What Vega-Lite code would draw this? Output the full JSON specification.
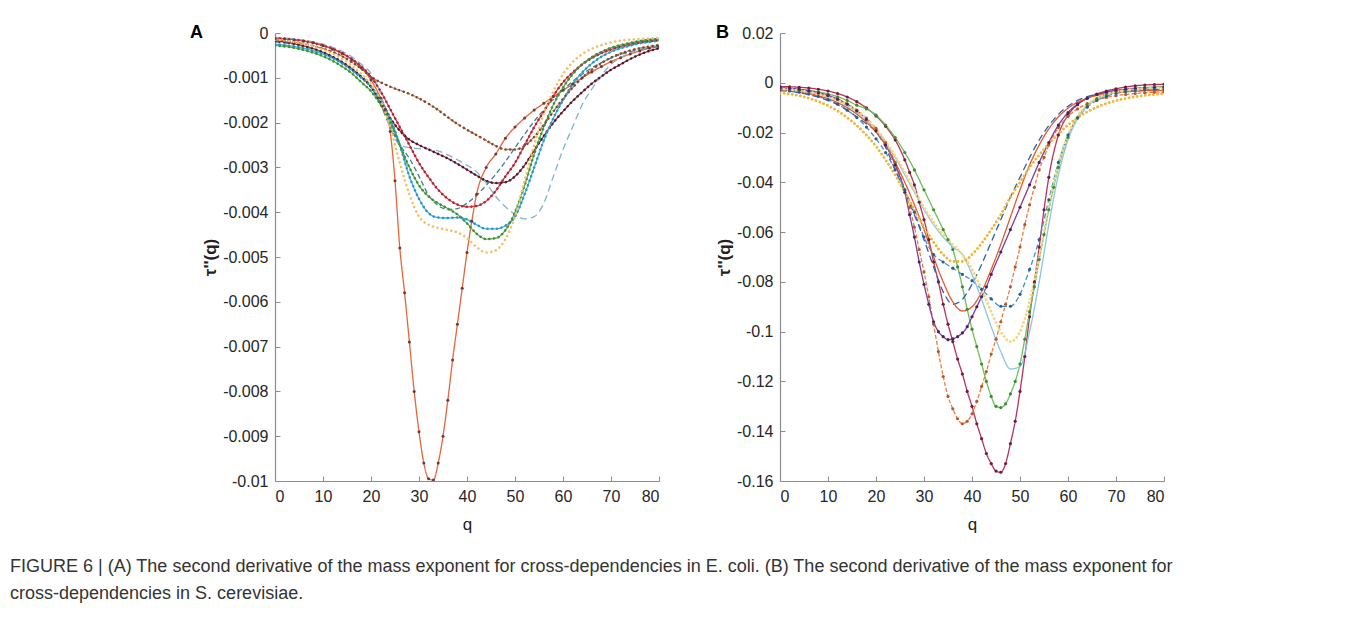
{
"$schema": "https://vega.github.io/schema/vega-lite/v6.json",
"background": "white",
"padding": {"left": 10, "top": 24, "right": 10, "bottom": 10},
"title": {"text": ["FIGURE 6 | (A) The second derivative of the mass exponent for cross-dependencies in E. coli. (B) The second derivative of the mass exponent for", "cross-dependencies in S. cerevisiae."], "orient": "bottom", "anchor": "start", "frame": "bounds", "dx": -180, "offset": 26, "fontSize": 18, "fontWeight": "normal", "font": "Liberation Sans", "color": "#333333", "lineHeight": 27, "baseline": "top"},
"datasets": {
"A": [
{"s":"A1","q":0,"v":-0.00012},{"s":"A1","q":2,"v":-0.00013},{"s":"A1","q":4,"v":-0.00015},{"s":"A1","q":6,"v":-0.00018},{"s":"A1","q":8,"v":-0.00022},{"s":"A1","q":10,"v":-0.00028},{"s":"A1","q":12,"v":-0.00036},{"s":"A1","q":14,"v":-0.00046},{"s":"A1","q":16,"v":-0.0006},{"s":"A1","q":18,"v":-0.00078},{"s":"A1","q":20,"v":-0.00105},{"s":"A1","q":22,"v":-0.00145},{"s":"A1","q":23,"v":-0.0017},{"s":"A1","q":24,"v":-0.0022},{"s":"A1","q":25,"v":-0.0033},{"s":"A1","q":26,"v":-0.0048},{"s":"A1","q":27,"v":-0.0058},{"s":"A1","q":28,"v":-0.0069},{"s":"A1","q":29,"v":-0.008},{"s":"A1","q":30,"v":-0.0089},{"s":"A1","q":31,"v":-0.0096},{"s":"A1","q":32,"v":-0.00995},{"s":"A1","q":33,"v":-0.00998},{"s":"A1","q":34,"v":-0.0096},{"s":"A1","q":35,"v":-0.009},{"s":"A1","q":36,"v":-0.0082},{"s":"A1","q":37,"v":-0.0073},{"s":"A1","q":38,"v":-0.0065},{"s":"A1","q":39,"v":-0.0057},{"s":"A1","q":40,"v":-0.0049},{"s":"A1","q":41,"v":-0.0042},{"s":"A1","q":42,"v":-0.0036},{"s":"A1","q":44,"v":-0.003},{"s":"A1","q":46,"v":-0.0027},{"s":"A1","q":48,"v":-0.00235},{"s":"A1","q":50,"v":-0.0021},{"s":"A1","q":52,"v":-0.0019},{"s":"A1","q":54,"v":-0.00172},{"s":"A1","q":56,"v":-0.00157},{"s":"A1","q":58,"v":-0.00142},{"s":"A1","q":60,"v":-0.00128},{"s":"A1","q":62,"v":-0.00114},{"s":"A1","q":64,"v":-0.001},{"s":"A1","q":66,"v":-0.00087},{"s":"A1","q":68,"v":-0.00075},{"s":"A1","q":70,"v":-0.00064},{"s":"A1","q":72,"v":-0.00055},{"s":"A1","q":74,"v":-0.00047},{"s":"A1","q":76,"v":-0.0004},{"s":"A1","q":78,"v":-0.00034},{"s":"A1","q":80,"v":-0.0003},
{"s":"A2","q":0,"v":-0.00015},{"s":"A2","q":2,"v":-0.00017},{"s":"A2","q":4,"v":-0.0002},{"s":"A2","q":6,"v":-0.00024},{"s":"A2","q":8,"v":-0.00029},{"s":"A2","q":10,"v":-0.00035},{"s":"A2","q":12,"v":-0.00042},{"s":"A2","q":14,"v":-0.00052},{"s":"A2","q":16,"v":-0.00065},{"s":"A2","q":18,"v":-0.0008},{"s":"A2","q":20,"v":-0.00098},{"s":"A2","q":22,"v":-0.0011},{"s":"A2","q":24,"v":-0.0012},{"s":"A2","q":26,"v":-0.00128},{"s":"A2","q":28,"v":-0.00136},{"s":"A2","q":30,"v":-0.00146},{"s":"A2","q":32,"v":-0.00158},{"s":"A2","q":34,"v":-0.00172},{"s":"A2","q":36,"v":-0.00188},{"s":"A2","q":38,"v":-0.00203},{"s":"A2","q":40,"v":-0.00216},{"s":"A2","q":42,"v":-0.00228},{"s":"A2","q":44,"v":-0.0024},{"s":"A2","q":46,"v":-0.00252},{"s":"A2","q":48,"v":-0.0026},{"s":"A2","q":50,"v":-0.0026},{"s":"A2","q":52,"v":-0.00252},{"s":"A2","q":54,"v":-0.00232},{"s":"A2","q":56,"v":-0.00205},{"s":"A2","q":58,"v":-0.00175},{"s":"A2","q":60,"v":-0.00147},{"s":"A2","q":62,"v":-0.00122},{"s":"A2","q":64,"v":-0.001},{"s":"A2","q":66,"v":-0.00082},{"s":"A2","q":68,"v":-0.00067},{"s":"A2","q":70,"v":-0.00055},{"s":"A2","q":72,"v":-0.00046},{"s":"A2","q":74,"v":-0.00039},{"s":"A2","q":76,"v":-0.00034},{"s":"A2","q":78,"v":-0.0003},{"s":"A2","q":80,"v":-0.00027},
{"s":"A3","q":0,"v":-0.00018},{"s":"A3","q":2,"v":-0.0002},{"s":"A3","q":4,"v":-0.00024},{"s":"A3","q":6,"v":-0.00029},{"s":"A3","q":8,"v":-0.00035},{"s":"A3","q":10,"v":-0.00043},{"s":"A3","q":12,"v":-0.00053},{"s":"A3","q":14,"v":-0.00065},{"s":"A3","q":16,"v":-0.0008},{"s":"A3","q":18,"v":-0.00098},{"s":"A3","q":20,"v":-0.0012},{"s":"A3","q":22,"v":-0.00155},{"s":"A3","q":24,"v":-0.0019},{"s":"A3","q":26,"v":-0.00218},{"s":"A3","q":28,"v":-0.00238},{"s":"A3","q":30,"v":-0.0025},{"s":"A3","q":32,"v":-0.0026},{"s":"A3","q":34,"v":-0.0027},{"s":"A3","q":36,"v":-0.0028},{"s":"A3","q":38,"v":-0.00292},{"s":"A3","q":40,"v":-0.00305},{"s":"A3","q":42,"v":-0.00318},{"s":"A3","q":44,"v":-0.0033},{"s":"A3","q":46,"v":-0.00335},{"s":"A3","q":48,"v":-0.00333},{"s":"A3","q":50,"v":-0.0032},{"s":"A3","q":52,"v":-0.00295},{"s":"A3","q":54,"v":-0.00262},{"s":"A3","q":56,"v":-0.0023},{"s":"A3","q":58,"v":-0.002},{"s":"A3","q":60,"v":-0.00175},{"s":"A3","q":62,"v":-0.00152},{"s":"A3","q":64,"v":-0.00132},{"s":"A3","q":66,"v":-0.00113},{"s":"A3","q":68,"v":-0.00097},{"s":"A3","q":70,"v":-0.00082},{"s":"A3","q":72,"v":-0.0007},{"s":"A3","q":74,"v":-0.00058},{"s":"A3","q":76,"v":-0.00048},{"s":"A3","q":78,"v":-0.0004},{"s":"A3","q":80,"v":-0.00034},
{"s":"A4","q":0,"v":-0.00012},{"s":"A4","q":2,"v":-0.00013},{"s":"A4","q":4,"v":-0.00015},{"s":"A4","q":6,"v":-0.00018},{"s":"A4","q":8,"v":-0.00022},{"s":"A4","q":10,"v":-0.00028},{"s":"A4","q":12,"v":-0.00035},{"s":"A4","q":14,"v":-0.00045},{"s":"A4","q":16,"v":-0.00058},{"s":"A4","q":18,"v":-0.00075},{"s":"A4","q":20,"v":-0.00098},{"s":"A4","q":22,"v":-0.0013},{"s":"A4","q":24,"v":-0.0017},{"s":"A4","q":26,"v":-0.0021},{"s":"A4","q":28,"v":-0.0025},{"s":"A4","q":30,"v":-0.0029},{"s":"A4","q":32,"v":-0.00322},{"s":"A4","q":34,"v":-0.0035},{"s":"A4","q":36,"v":-0.0037},{"s":"A4","q":38,"v":-0.00383},{"s":"A4","q":40,"v":-0.00388},{"s":"A4","q":42,"v":-0.00386},{"s":"A4","q":44,"v":-0.00375},{"s":"A4","q":46,"v":-0.00352},{"s":"A4","q":48,"v":-0.0032},{"s":"A4","q":50,"v":-0.0029},{"s":"A4","q":52,"v":-0.0025},{"s":"A4","q":54,"v":-0.0021},{"s":"A4","q":56,"v":-0.00175},{"s":"A4","q":58,"v":-0.0014},{"s":"A4","q":60,"v":-0.0011},{"s":"A4","q":62,"v":-0.00088},{"s":"A4","q":64,"v":-0.0007},{"s":"A4","q":66,"v":-0.00056},{"s":"A4","q":68,"v":-0.00045},{"s":"A4","q":70,"v":-0.00037},{"s":"A4","q":72,"v":-0.0003},{"s":"A4","q":74,"v":-0.00025},{"s":"A4","q":76,"v":-0.00021},{"s":"A4","q":78,"v":-0.00018},{"s":"A4","q":80,"v":-0.00016},
{"s":"A5","q":0,"v":-0.0002},{"s":"A5","q":2,"v":-0.00022},{"s":"A5","q":4,"v":-0.00025},{"s":"A5","q":6,"v":-0.0003},{"s":"A5","q":8,"v":-0.00036},{"s":"A5","q":10,"v":-0.00044},{"s":"A5","q":12,"v":-0.00054},{"s":"A5","q":14,"v":-0.00066},{"s":"A5","q":16,"v":-0.0008},{"s":"A5","q":18,"v":-0.00098},{"s":"A5","q":20,"v":-0.0012},{"s":"A5","q":22,"v":-0.0016},{"s":"A5","q":24,"v":-0.0021},{"s":"A5","q":26,"v":-0.0025},{"s":"A5","q":28,"v":-0.0028},{"s":"A5","q":30,"v":-0.0032},{"s":"A5","q":32,"v":-0.00362},{"s":"A5","q":34,"v":-0.00385},{"s":"A5","q":36,"v":-0.00394},{"s":"A5","q":38,"v":-0.00392},{"s":"A5","q":40,"v":-0.0038},{"s":"A5","q":42,"v":-0.00362},{"s":"A5","q":44,"v":-0.0034},{"s":"A5","q":46,"v":-0.00315},{"s":"A5","q":48,"v":-0.00287},{"s":"A5","q":50,"v":-0.00256},{"s":"A5","q":52,"v":-0.00226},{"s":"A5","q":54,"v":-0.00197},{"s":"A5","q":56,"v":-0.00172},{"s":"A5","q":58,"v":-0.00148},{"s":"A5","q":60,"v":-0.00127},{"s":"A5","q":62,"v":-0.00108},{"s":"A5","q":64,"v":-0.00092},{"s":"A5","q":66,"v":-0.00078},{"s":"A5","q":68,"v":-0.00066},{"s":"A5","q":70,"v":-0.00056},{"s":"A5","q":72,"v":-0.00048},{"s":"A5","q":74,"v":-0.00042},{"s":"A5","q":76,"v":-0.00037},{"s":"A5","q":78,"v":-0.00033},{"s":"A5","q":80,"v":-0.0003},
{"s":"A6","q":0,"v":-0.0001},{"s":"A6","q":2,"v":-0.00011},{"s":"A6","q":4,"v":-0.00013},{"s":"A6","q":6,"v":-0.00016},{"s":"A6","q":8,"v":-0.0002},{"s":"A6","q":10,"v":-0.00025},{"s":"A6","q":12,"v":-0.00032},{"s":"A6","q":14,"v":-0.00041},{"s":"A6","q":16,"v":-0.00053},{"s":"A6","q":18,"v":-0.0007},{"s":"A6","q":20,"v":-0.0009},{"s":"A6","q":22,"v":-0.00135},{"s":"A6","q":24,"v":-0.0021},{"s":"A6","q":26,"v":-0.0025},{"s":"A6","q":28,"v":-0.00256},{"s":"A6","q":30,"v":-0.00258},{"s":"A6","q":32,"v":-0.0026},{"s":"A6","q":34,"v":-0.00263},{"s":"A6","q":36,"v":-0.00272},{"s":"A6","q":38,"v":-0.00283},{"s":"A6","q":40,"v":-0.00295},{"s":"A6","q":42,"v":-0.0031},{"s":"A6","q":44,"v":-0.00335},{"s":"A6","q":46,"v":-0.00365},{"s":"A6","q":48,"v":-0.00388},{"s":"A6","q":50,"v":-0.00405},{"s":"A6","q":52,"v":-0.00415},{"s":"A6","q":54,"v":-0.0041},{"s":"A6","q":56,"v":-0.0038},{"s":"A6","q":58,"v":-0.0032},{"s":"A6","q":60,"v":-0.0026},{"s":"A6","q":62,"v":-0.0021},{"s":"A6","q":64,"v":-0.0016},{"s":"A6","q":66,"v":-0.00125},{"s":"A6","q":68,"v":-0.00095},{"s":"A6","q":70,"v":-0.0007},{"s":"A6","q":72,"v":-0.00055},{"s":"A6","q":74,"v":-0.00044},{"s":"A6","q":76,"v":-0.00037},{"s":"A6","q":78,"v":-0.00031},{"s":"A6","q":80,"v":-0.00027},
{"s":"A7","q":0,"v":-0.00025},{"s":"A7","q":2,"v":-0.00027},{"s":"A7","q":4,"v":-0.0003},{"s":"A7","q":6,"v":-0.00034},{"s":"A7","q":8,"v":-0.0004},{"s":"A7","q":10,"v":-0.00047},{"s":"A7","q":12,"v":-0.00056},{"s":"A7","q":14,"v":-0.00068},{"s":"A7","q":16,"v":-0.00083},{"s":"A7","q":18,"v":-0.001},{"s":"A7","q":20,"v":-0.0012},{"s":"A7","q":22,"v":-0.0015},{"s":"A7","q":24,"v":-0.0019},{"s":"A7","q":26,"v":-0.0025},{"s":"A7","q":28,"v":-0.0032},{"s":"A7","q":30,"v":-0.0037},{"s":"A7","q":32,"v":-0.00402},{"s":"A7","q":34,"v":-0.00412},{"s":"A7","q":36,"v":-0.00413},{"s":"A7","q":38,"v":-0.00412},{"s":"A7","q":40,"v":-0.00416},{"s":"A7","q":42,"v":-0.00428},{"s":"A7","q":44,"v":-0.00437},{"s":"A7","q":46,"v":-0.00437},{"s":"A7","q":48,"v":-0.0043},{"s":"A7","q":50,"v":-0.0041},{"s":"A7","q":52,"v":-0.0036},{"s":"A7","q":54,"v":-0.003},{"s":"A7","q":56,"v":-0.0024},{"s":"A7","q":58,"v":-0.0019},{"s":"A7","q":60,"v":-0.0015},{"s":"A7","q":62,"v":-0.00115},{"s":"A7","q":64,"v":-0.00088},{"s":"A7","q":66,"v":-0.00068},{"s":"A7","q":68,"v":-0.00053},{"s":"A7","q":70,"v":-0.00042},{"s":"A7","q":72,"v":-0.00034},{"s":"A7","q":74,"v":-0.00028},{"s":"A7","q":76,"v":-0.00023},{"s":"A7","q":78,"v":-0.0002},{"s":"A7","q":80,"v":-0.00017},
{"s":"A8","q":0,"v":-0.00028},{"s":"A8","q":2,"v":-0.0003},{"s":"A8","q":4,"v":-0.00033},{"s":"A8","q":6,"v":-0.00038},{"s":"A8","q":8,"v":-0.00044},{"s":"A8","q":10,"v":-0.00052},{"s":"A8","q":12,"v":-0.00062},{"s":"A8","q":14,"v":-0.00075},{"s":"A8","q":16,"v":-0.0009},{"s":"A8","q":18,"v":-0.0011},{"s":"A8","q":20,"v":-0.0013},{"s":"A8","q":22,"v":-0.0016},{"s":"A8","q":24,"v":-0.002},{"s":"A8","q":26,"v":-0.0025},{"s":"A8","q":28,"v":-0.003},{"s":"A8","q":30,"v":-0.0034},{"s":"A8","q":32,"v":-0.00365},{"s":"A8","q":34,"v":-0.0038},{"s":"A8","q":36,"v":-0.00392},{"s":"A8","q":38,"v":-0.00405},{"s":"A8","q":40,"v":-0.00425},{"s":"A8","q":42,"v":-0.00448},{"s":"A8","q":44,"v":-0.0046},{"s":"A8","q":46,"v":-0.00458},{"s":"A8","q":48,"v":-0.0044},{"s":"A8","q":50,"v":-0.004},{"s":"A8","q":52,"v":-0.0034},{"s":"A8","q":54,"v":-0.0027},{"s":"A8","q":56,"v":-0.0021},{"s":"A8","q":58,"v":-0.0016},{"s":"A8","q":60,"v":-0.00122},{"s":"A8","q":62,"v":-0.00092},{"s":"A8","q":64,"v":-0.0007},{"s":"A8","q":66,"v":-0.00054},{"s":"A8","q":68,"v":-0.00042},{"s":"A8","q":70,"v":-0.00033},{"s":"A8","q":72,"v":-0.00027},{"s":"A8","q":74,"v":-0.00022},{"s":"A8","q":76,"v":-0.00018},{"s":"A8","q":78,"v":-0.00015},{"s":"A8","q":80,"v":-0.00013},
{"s":"A9","q":0,"v":-0.00015},{"s":"A9","q":2,"v":-0.00017},{"s":"A9","q":4,"v":-0.0002},{"s":"A9","q":6,"v":-0.00024},{"s":"A9","q":8,"v":-0.0003},{"s":"A9","q":10,"v":-0.00037},{"s":"A9","q":12,"v":-0.00046},{"s":"A9","q":14,"v":-0.00058},{"s":"A9","q":16,"v":-0.00073},{"s":"A9","q":18,"v":-0.00092},{"s":"A9","q":20,"v":-0.00115},{"s":"A9","q":22,"v":-0.0015},{"s":"A9","q":24,"v":-0.0021},{"s":"A9","q":26,"v":-0.0029},{"s":"A9","q":28,"v":-0.0036},{"s":"A9","q":30,"v":-0.0041},{"s":"A9","q":32,"v":-0.00428},{"s":"A9","q":34,"v":-0.00435},{"s":"A9","q":36,"v":-0.0044},{"s":"A9","q":38,"v":-0.00445},{"s":"A9","q":40,"v":-0.00458},{"s":"A9","q":42,"v":-0.00478},{"s":"A9","q":44,"v":-0.0049},{"s":"A9","q":46,"v":-0.00485},{"s":"A9","q":48,"v":-0.0046},{"s":"A9","q":50,"v":-0.0041},{"s":"A9","q":52,"v":-0.0033},{"s":"A9","q":54,"v":-0.0025},{"s":"A9","q":56,"v":-0.0018},{"s":"A9","q":58,"v":-0.0013},{"s":"A9","q":60,"v":-0.00092},{"s":"A9","q":62,"v":-0.00065},{"s":"A9","q":64,"v":-0.00047},{"s":"A9","q":66,"v":-0.00035},{"s":"A9","q":68,"v":-0.00027},{"s":"A9","q":70,"v":-0.00021},{"s":"A9","q":72,"v":-0.00017},{"s":"A9","q":74,"v":-0.00015},{"s":"A9","q":76,"v":-0.00013},{"s":"A9","q":78,"v":-0.00012},{"s":"A9","q":80,"v":-0.00011}
],
"B": [
{"s":"B1","q":0,"v":-0.0015},{"s":"B1","q":2,"v":-0.0016},{"s":"B1","q":4,"v":-0.0018},{"s":"B1","q":6,"v":-0.0021},{"s":"B1","q":8,"v":-0.0026},{"s":"B1","q":10,"v":-0.0033},{"s":"B1","q":12,"v":-0.0043},{"s":"B1","q":14,"v":-0.0057},{"s":"B1","q":16,"v":-0.0076},{"s":"B1","q":18,"v":-0.0101},{"s":"B1","q":20,"v":-0.0133},{"s":"B1","q":22,"v":-0.0175},{"s":"B1","q":24,"v":-0.023},{"s":"B1","q":26,"v":-0.031},{"s":"B1","q":27,"v":-0.036},{"s":"B1","q":28,"v":-0.041},{"s":"B1","q":29,"v":-0.048},{"s":"B1","q":30,"v":-0.055},{"s":"B1","q":31,"v":-0.063},{"s":"B1","q":32,"v":-0.072},{"s":"B1","q":33,"v":-0.08},{"s":"B1","q":34,"v":-0.089},{"s":"B1","q":35,"v":-0.097},{"s":"B1","q":36,"v":-0.104},{"s":"B1","q":37,"v":-0.111},{"s":"B1","q":38,"v":-0.117},{"s":"B1","q":39,"v":-0.124},{"s":"B1","q":40,"v":-0.13},{"s":"B1","q":41,"v":-0.137},{"s":"B1","q":42,"v":-0.143},{"s":"B1","q":43,"v":-0.149},{"s":"B1","q":44,"v":-0.153},{"s":"B1","q":45,"v":-0.156},{"s":"B1","q":46,"v":-0.1565},{"s":"B1","q":47,"v":-0.153},{"s":"B1","q":48,"v":-0.145},{"s":"B1","q":49,"v":-0.136},{"s":"B1","q":50,"v":-0.124},{"s":"B1","q":51,"v":-0.11},{"s":"B1","q":52,"v":-0.094},{"s":"B1","q":53,"v":-0.08},{"s":"B1","q":54,"v":-0.066},{"s":"B1","q":55,"v":-0.051},{"s":"B1","q":56,"v":-0.038},{"s":"B1","q":58,"v":-0.021},{"s":"B1","q":60,"v":-0.013},{"s":"B1","q":62,"v":-0.0088},{"s":"B1","q":64,"v":-0.0062},{"s":"B1","q":66,"v":-0.0045},{"s":"B1","q":68,"v":-0.0033},{"s":"B1","q":70,"v":-0.0024},{"s":"B1","q":72,"v":-0.0017},{"s":"B1","q":74,"v":-0.0012},{"s":"B1","q":76,"v":-0.0009},{"s":"B1","q":78,"v":-0.0007},{"s":"B1","q":80,"v":-0.0006},
{"s":"B2","q":0,"v":-0.0025},{"s":"B2","q":2,"v":-0.0027},{"s":"B2","q":4,"v":-0.003},{"s":"B2","q":6,"v":-0.0035},{"s":"B2","q":8,"v":-0.0042},{"s":"B2","q":10,"v":-0.0052},{"s":"B2","q":12,"v":-0.0066},{"s":"B2","q":14,"v":-0.0085},{"s":"B2","q":16,"v":-0.011},{"s":"B2","q":18,"v":-0.0142},{"s":"B2","q":20,"v":-0.0183},{"s":"B2","q":22,"v":-0.024},{"s":"B2","q":24,"v":-0.032},{"s":"B2","q":26,"v":-0.043},{"s":"B2","q":27,"v":-0.05},{"s":"B2","q":28,"v":-0.058},{"s":"B2","q":29,"v":-0.067},{"s":"B2","q":30,"v":-0.076},{"s":"B2","q":31,"v":-0.086},{"s":"B2","q":32,"v":-0.097},{"s":"B2","q":33,"v":-0.108},{"s":"B2","q":34,"v":-0.118},{"s":"B2","q":35,"v":-0.126},{"s":"B2","q":36,"v":-0.131},{"s":"B2","q":37,"v":-0.135},{"s":"B2","q":38,"v":-0.137},{"s":"B2","q":39,"v":-0.136},{"s":"B2","q":40,"v":-0.133},{"s":"B2","q":41,"v":-0.128},{"s":"B2","q":42,"v":-0.122},{"s":"B2","q":43,"v":-0.116},{"s":"B2","q":44,"v":-0.109},{"s":"B2","q":45,"v":-0.103},{"s":"B2","q":46,"v":-0.096},{"s":"B2","q":47,"v":-0.089},{"s":"B2","q":48,"v":-0.082},{"s":"B2","q":49,"v":-0.074},{"s":"B2","q":50,"v":-0.066},{"s":"B2","q":51,"v":-0.057},{"s":"B2","q":52,"v":-0.049},{"s":"B2","q":53,"v":-0.042},{"s":"B2","q":54,"v":-0.035},{"s":"B2","q":55,"v":-0.03},{"s":"B2","q":56,"v":-0.025},{"s":"B2","q":58,"v":-0.018},{"s":"B2","q":60,"v":-0.0135},{"s":"B2","q":62,"v":-0.0105},{"s":"B2","q":64,"v":-0.0084},{"s":"B2","q":66,"v":-0.0069},{"s":"B2","q":68,"v":-0.0059},{"s":"B2","q":70,"v":-0.0052},{"s":"B2","q":72,"v":-0.0047},{"s":"B2","q":74,"v":-0.0043},{"s":"B2","q":76,"v":-0.004},{"s":"B2","q":78,"v":-0.0038},{"s":"B2","q":80,"v":-0.0037},
{"s":"B3","q":0,"v":-0.0022},{"s":"B3","q":2,"v":-0.0024},{"s":"B3","q":4,"v":-0.0027},{"s":"B3","q":6,"v":-0.0031},{"s":"B3","q":8,"v":-0.0037},{"s":"B3","q":10,"v":-0.0045},{"s":"B3","q":12,"v":-0.0056},{"s":"B3","q":14,"v":-0.0071},{"s":"B3","q":16,"v":-0.009},{"s":"B3","q":18,"v":-0.0105},{"s":"B3","q":20,"v":-0.013},{"s":"B3","q":22,"v":-0.017},{"s":"B3","q":24,"v":-0.022},{"s":"B3","q":26,"v":-0.028},{"s":"B3","q":28,"v":-0.035},{"s":"B3","q":30,"v":-0.043},{"s":"B3","q":32,"v":-0.051},{"s":"B3","q":34,"v":-0.059},{"s":"B3","q":35,"v":-0.063},{"s":"B3","q":36,"v":-0.067},{"s":"B3","q":37,"v":-0.074},{"s":"B3","q":38,"v":-0.082},{"s":"B3","q":39,"v":-0.091},{"s":"B3","q":40,"v":-0.099},{"s":"B3","q":41,"v":-0.106},{"s":"B3","q":42,"v":-0.113},{"s":"B3","q":43,"v":-0.12},{"s":"B3","q":44,"v":-0.126},{"s":"B3","q":45,"v":-0.13},{"s":"B3","q":46,"v":-0.1305},{"s":"B3","q":47,"v":-0.129},{"s":"B3","q":48,"v":-0.125},{"s":"B3","q":49,"v":-0.12},{"s":"B3","q":50,"v":-0.113},{"s":"B3","q":51,"v":-0.103},{"s":"B3","q":52,"v":-0.092},{"s":"B3","q":53,"v":-0.082},{"s":"B3","q":54,"v":-0.071},{"s":"B3","q":55,"v":-0.061},{"s":"B3","q":56,"v":-0.051},{"s":"B3","q":57,"v":-0.042},{"s":"B3","q":58,"v":-0.034},{"s":"B3","q":60,"v":-0.022},{"s":"B3","q":62,"v":-0.014},{"s":"B3","q":64,"v":-0.0092},{"s":"B3","q":66,"v":-0.0063},{"s":"B3","q":68,"v":-0.0045},{"s":"B3","q":70,"v":-0.0034},{"s":"B3","q":72,"v":-0.0027},{"s":"B3","q":74,"v":-0.0022},{"s":"B3","q":76,"v":-0.0019},{"s":"B3","q":78,"v":-0.0017},{"s":"B3","q":80,"v":-0.0016},
{"s":"B4","q":0,"v":-0.002},{"s":"B4","q":2,"v":-0.0022},{"s":"B4","q":4,"v":-0.0026},{"s":"B4","q":6,"v":-0.0032},{"s":"B4","q":8,"v":-0.004},{"s":"B4","q":10,"v":-0.0051},{"s":"B4","q":12,"v":-0.0066},{"s":"B4","q":14,"v":-0.0086},{"s":"B4","q":16,"v":-0.0113},{"s":"B4","q":18,"v":-0.0148},{"s":"B4","q":20,"v":-0.0193},{"s":"B4","q":22,"v":-0.025},{"s":"B4","q":24,"v":-0.033},{"s":"B4","q":26,"v":-0.044},{"s":"B4","q":27,"v":-0.053},{"s":"B4","q":28,"v":-0.062},{"s":"B4","q":29,"v":-0.072},{"s":"B4","q":30,"v":-0.081},{"s":"B4","q":31,"v":-0.089},{"s":"B4","q":32,"v":-0.096},{"s":"B4","q":33,"v":-0.1},{"s":"B4","q":34,"v":-0.102},{"s":"B4","q":35,"v":-0.1032},{"s":"B4","q":36,"v":-0.1029},{"s":"B4","q":37,"v":-0.102},{"s":"B4","q":38,"v":-0.1005},{"s":"B4","q":39,"v":-0.098},{"s":"B4","q":40,"v":-0.094},{"s":"B4","q":41,"v":-0.09},{"s":"B4","q":42,"v":-0.086},{"s":"B4","q":43,"v":-0.082},{"s":"B4","q":44,"v":-0.077},{"s":"B4","q":46,"v":-0.068},{"s":"B4","q":48,"v":-0.059},{"s":"B4","q":50,"v":-0.05},{"s":"B4","q":52,"v":-0.041},{"s":"B4","q":54,"v":-0.032},{"s":"B4","q":56,"v":-0.024},{"s":"B4","q":58,"v":-0.017},{"s":"B4","q":60,"v":-0.012},{"s":"B4","q":62,"v":-0.0085},{"s":"B4","q":64,"v":-0.0062},{"s":"B4","q":66,"v":-0.0047},{"s":"B4","q":68,"v":-0.0037},{"s":"B4","q":70,"v":-0.003},{"s":"B4","q":72,"v":-0.0026},{"s":"B4","q":74,"v":-0.0023},{"s":"B4","q":76,"v":-0.0021},{"s":"B4","q":78,"v":-0.0019},{"s":"B4","q":80,"v":-0.0018},
{"s":"B5","q":0,"v":-0.003},{"s":"B5","q":2,"v":-0.0033},{"s":"B5","q":4,"v":-0.0038},{"s":"B5","q":6,"v":-0.0045},{"s":"B5","q":8,"v":-0.0055},{"s":"B5","q":10,"v":-0.0068},{"s":"B5","q":12,"v":-0.0086},{"s":"B5","q":14,"v":-0.011},{"s":"B5","q":16,"v":-0.014},{"s":"B5","q":18,"v":-0.0178},{"s":"B5","q":20,"v":-0.0225},{"s":"B5","q":22,"v":-0.028},{"s":"B5","q":24,"v":-0.035},{"s":"B5","q":26,"v":-0.043},{"s":"B5","q":28,"v":-0.052},{"s":"B5","q":30,"v":-0.062},{"s":"B5","q":32,"v":-0.069},{"s":"B5","q":34,"v":-0.072},{"s":"B5","q":36,"v":-0.0745},{"s":"B5","q":38,"v":-0.077},{"s":"B5","q":40,"v":-0.0795},{"s":"B5","q":42,"v":-0.083},{"s":"B5","q":44,"v":-0.0868},{"s":"B5","q":46,"v":-0.0898},{"s":"B5","q":48,"v":-0.0898},{"s":"B5","q":50,"v":-0.085},{"s":"B5","q":52,"v":-0.075},{"s":"B5","q":54,"v":-0.063},{"s":"B5","q":56,"v":-0.047},{"s":"B5","q":58,"v":-0.032},{"s":"B5","q":60,"v":-0.021},{"s":"B5","q":62,"v":-0.0142},{"s":"B5","q":64,"v":-0.0098},{"s":"B5","q":66,"v":-0.0071},{"s":"B5","q":68,"v":-0.0054},{"s":"B5","q":70,"v":-0.0043},{"s":"B5","q":72,"v":-0.0036},{"s":"B5","q":74,"v":-0.0031},{"s":"B5","q":76,"v":-0.0028},{"s":"B5","q":78,"v":-0.0026},{"s":"B5","q":80,"v":-0.0025},
{"s":"B6","q":0,"v":-0.003},{"s":"B6","q":2,"v":-0.0034},{"s":"B6","q":4,"v":-0.004},{"s":"B6","q":6,"v":-0.0048},{"s":"B6","q":8,"v":-0.0058},{"s":"B6","q":10,"v":-0.0071},{"s":"B6","q":12,"v":-0.0088},{"s":"B6","q":14,"v":-0.011},{"s":"B6","q":16,"v":-0.0137},{"s":"B6","q":18,"v":-0.0165},{"s":"B6","q":20,"v":-0.0197},{"s":"B6","q":22,"v":-0.026},{"s":"B6","q":24,"v":-0.035},{"s":"B6","q":26,"v":-0.044},{"s":"B6","q":28,"v":-0.053},{"s":"B6","q":30,"v":-0.063},{"s":"B6","q":32,"v":-0.074},{"s":"B6","q":34,"v":-0.084},{"s":"B6","q":36,"v":-0.089},{"s":"B6","q":38,"v":-0.087},{"s":"B6","q":40,"v":-0.081},{"s":"B6","q":42,"v":-0.073},{"s":"B6","q":44,"v":-0.064},{"s":"B6","q":46,"v":-0.055},{"s":"B6","q":48,"v":-0.046},{"s":"B6","q":50,"v":-0.038},{"s":"B6","q":52,"v":-0.03},{"s":"B6","q":54,"v":-0.023},{"s":"B6","q":56,"v":-0.0172},{"s":"B6","q":58,"v":-0.0127},{"s":"B6","q":60,"v":-0.0094},{"s":"B6","q":62,"v":-0.0071},{"s":"B6","q":64,"v":-0.0056},{"s":"B6","q":66,"v":-0.0046},{"s":"B6","q":68,"v":-0.004},{"s":"B6","q":70,"v":-0.0036},{"s":"B6","q":72,"v":-0.0033},{"s":"B6","q":74,"v":-0.0031},{"s":"B6","q":76,"v":-0.003},{"s":"B6","q":78,"v":-0.0029},{"s":"B6","q":80,"v":-0.0028},
{"s":"B7","q":0,"v":-0.0028},{"s":"B7","q":2,"v":-0.0031},{"s":"B7","q":4,"v":-0.0036},{"s":"B7","q":6,"v":-0.0043},{"s":"B7","q":8,"v":-0.0052},{"s":"B7","q":10,"v":-0.0064},{"s":"B7","q":12,"v":-0.008},{"s":"B7","q":14,"v":-0.01},{"s":"B7","q":16,"v":-0.0126},{"s":"B7","q":18,"v":-0.0158},{"s":"B7","q":20,"v":-0.0198},{"s":"B7","q":22,"v":-0.025},{"s":"B7","q":24,"v":-0.032},{"s":"B7","q":26,"v":-0.04},{"s":"B7","q":28,"v":-0.049},{"s":"B7","q":30,"v":-0.059},{"s":"B7","q":32,"v":-0.07},{"s":"B7","q":34,"v":-0.08},{"s":"B7","q":36,"v":-0.088},{"s":"B7","q":38,"v":-0.0917},{"s":"B7","q":40,"v":-0.09},{"s":"B7","q":42,"v":-0.084},{"s":"B7","q":44,"v":-0.075},{"s":"B7","q":46,"v":-0.065},{"s":"B7","q":48,"v":-0.054},{"s":"B7","q":50,"v":-0.043},{"s":"B7","q":52,"v":-0.033},{"s":"B7","q":54,"v":-0.025},{"s":"B7","q":56,"v":-0.0185},{"s":"B7","q":58,"v":-0.0137},{"s":"B7","q":60,"v":-0.0102},{"s":"B7","q":62,"v":-0.0078},{"s":"B7","q":64,"v":-0.0062},{"s":"B7","q":66,"v":-0.0051},{"s":"B7","q":68,"v":-0.0044},{"s":"B7","q":70,"v":-0.0039},{"s":"B7","q":72,"v":-0.0036},{"s":"B7","q":74,"v":-0.0034},{"s":"B7","q":76,"v":-0.0032},{"s":"B7","q":78,"v":-0.0031},{"s":"B7","q":80,"v":-0.003},
{"s":"B8","q":0,"v":-0.0025},{"s":"B8","q":2,"v":-0.0028},{"s":"B8","q":4,"v":-0.0032},{"s":"B8","q":6,"v":-0.0038},{"s":"B8","q":8,"v":-0.0046},{"s":"B8","q":10,"v":-0.0057},{"s":"B8","q":12,"v":-0.0072},{"s":"B8","q":14,"v":-0.0092},{"s":"B8","q":16,"v":-0.0118},{"s":"B8","q":18,"v":-0.015},{"s":"B8","q":20,"v":-0.019},{"s":"B8","q":22,"v":-0.024},{"s":"B8","q":24,"v":-0.03},{"s":"B8","q":26,"v":-0.037},{"s":"B8","q":28,"v":-0.044},{"s":"B8","q":30,"v":-0.051},{"s":"B8","q":32,"v":-0.057},{"s":"B8","q":34,"v":-0.062},{"s":"B8","q":36,"v":-0.066},{"s":"B8","q":38,"v":-0.069},{"s":"B8","q":40,"v":-0.077},{"s":"B8","q":42,"v":-0.087},{"s":"B8","q":44,"v":-0.098},{"s":"B8","q":46,"v":-0.108},{"s":"B8","q":48,"v":-0.115},{"s":"B8","q":50,"v":-0.114},{"s":"B8","q":52,"v":-0.1},{"s":"B8","q":54,"v":-0.08},{"s":"B8","q":56,"v":-0.057},{"s":"B8","q":58,"v":-0.037},{"s":"B8","q":60,"v":-0.023},{"s":"B8","q":62,"v":-0.0145},{"s":"B8","q":64,"v":-0.0095},{"s":"B8","q":66,"v":-0.0066},{"s":"B8","q":68,"v":-0.0048},{"s":"B8","q":70,"v":-0.0037},{"s":"B8","q":72,"v":-0.003},{"s":"B8","q":74,"v":-0.0025},{"s":"B8","q":76,"v":-0.0022},{"s":"B8","q":78,"v":-0.002},{"s":"B8","q":80,"v":-0.0019},
{"s":"B9","q":0,"v":-0.0024},{"s":"B9","q":2,"v":-0.0027},{"s":"B9","q":4,"v":-0.0031},{"s":"B9","q":6,"v":-0.0037},{"s":"B9","q":8,"v":-0.0045},{"s":"B9","q":10,"v":-0.0056},{"s":"B9","q":12,"v":-0.007},{"s":"B9","q":14,"v":-0.0089},{"s":"B9","q":16,"v":-0.0114},{"s":"B9","q":18,"v":-0.0145},{"s":"B9","q":20,"v":-0.0185},{"s":"B9","q":22,"v":-0.0235},{"s":"B9","q":24,"v":-0.0295},{"s":"B9","q":26,"v":-0.036},{"s":"B9","q":28,"v":-0.043},{"s":"B9","q":30,"v":-0.05},{"s":"B9","q":32,"v":-0.056},{"s":"B9","q":34,"v":-0.061},{"s":"B9","q":36,"v":-0.065},{"s":"B9","q":38,"v":-0.069},{"s":"B9","q":40,"v":-0.075},{"s":"B9","q":42,"v":-0.083},{"s":"B9","q":44,"v":-0.092},{"s":"B9","q":46,"v":-0.1},{"s":"B9","q":48,"v":-0.104},{"s":"B9","q":50,"v":-0.1},{"s":"B9","q":52,"v":-0.088},{"s":"B9","q":54,"v":-0.07},{"s":"B9","q":56,"v":-0.05},{"s":"B9","q":58,"v":-0.033},{"s":"B9","q":60,"v":-0.021},{"s":"B9","q":62,"v":-0.0135},{"s":"B9","q":64,"v":-0.0089},{"s":"B9","q":66,"v":-0.0062},{"s":"B9","q":68,"v":-0.0046},{"s":"B9","q":70,"v":-0.0036},{"s":"B9","q":72,"v":-0.003},{"s":"B9","q":74,"v":-0.0026},{"s":"B9","q":76,"v":-0.0023},{"s":"B9","q":78,"v":-0.0021},{"s":"B9","q":80,"v":-0.002},
{"s":"B10","q":0,"v":-0.004},{"s":"B10","q":2,"v":-0.0045},{"s":"B10","q":4,"v":-0.0052},{"s":"B10","q":6,"v":-0.0062},{"s":"B10","q":8,"v":-0.0075},{"s":"B10","q":10,"v":-0.0092},{"s":"B10","q":12,"v":-0.0113},{"s":"B10","q":14,"v":-0.014},{"s":"B10","q":16,"v":-0.0172},{"s":"B10","q":18,"v":-0.021},{"s":"B10","q":20,"v":-0.0255},{"s":"B10","q":22,"v":-0.031},{"s":"B10","q":24,"v":-0.037},{"s":"B10","q":26,"v":-0.044},{"s":"B10","q":28,"v":-0.051},{"s":"B10","q":30,"v":-0.058},{"s":"B10","q":32,"v":-0.064},{"s":"B10","q":34,"v":-0.069},{"s":"B10","q":36,"v":-0.0718},{"s":"B10","q":38,"v":-0.0718},{"s":"B10","q":40,"v":-0.069},{"s":"B10","q":42,"v":-0.0645},{"s":"B10","q":44,"v":-0.059},{"s":"B10","q":46,"v":-0.053},{"s":"B10","q":48,"v":-0.046},{"s":"B10","q":50,"v":-0.04},{"s":"B10","q":52,"v":-0.034},{"s":"B10","q":54,"v":-0.029},{"s":"B10","q":56,"v":-0.0245},{"s":"B10","q":58,"v":-0.0205},{"s":"B10","q":60,"v":-0.017},{"s":"B10","q":62,"v":-0.014},{"s":"B10","q":64,"v":-0.0117},{"s":"B10","q":66,"v":-0.0098},{"s":"B10","q":68,"v":-0.0083},{"s":"B10","q":70,"v":-0.0072},{"s":"B10","q":72,"v":-0.0063},{"s":"B10","q":74,"v":-0.0056},{"s":"B10","q":76,"v":-0.0051},{"s":"B10","q":78,"v":-0.0047},{"s":"B10","q":80,"v":-0.0044}
]
},
"spacing": 55,
"hconcat": [
{
"width": 384, "height": 448,
"title": {"text": "A", "anchor": "start", "frame": "group", "dx": -85, "dy": 20, "offset": 3, "baseline": "top", "fontSize": 18, "fontWeight": "bold", "font": "Liberation Sans", "color": "#000000"},
"data": {"name": "A"},
"resolve": {"scale": {"color": "independent"}},
"layer": [
{"transform": [{"filter": {"field": "s", "oneOf": ["A1","A2","A3","A4","A5","A6","A7","A8"]}}],
 "mark": {"type": "line", "strokeWidth": 1.3, "interpolate": "monotone", "clip": true},
 "encoding": {
  "x": {"field": "q", "type": "quantitative", "scale": {"domain": [0, 80], "nice": false}, "axis": {"title": "q", "values": [0,10,20,30,40,50,60,70,80], "format": "d"}},
  "y": {"field": "v", "type": "quantitative", "scale": {"domain": [-0.01, 0], "nice": false, "zero": false}, "axis": {"title": "τ''(q)", "titleFontWeight": "bold", "values": [0,-0.001,-0.002,-0.003,-0.004,-0.005,-0.006,-0.007,-0.008,-0.009,-0.01], "format": ".3~f"}},
  "color": {"field": "s", "type": "nominal", "legend": null, "scale": {"domain": ["A1","A2","A3","A4","A5","A6","A7","A8"], "range": ["#e5653c","#d9773f","#8c2f48","#e63b4a","#3f7d8c","#82b3cc","#3fb6e2","#5cb14c"]}},
  "strokeDash": {"field": "s", "type": "nominal", "legend": null, "scale": {"domain": ["A1","A2","A3","A4","A5","A6","A7","A8"], "range": [[1,0],[4,2],[1,0],[1,0],[5,3],[7,4],[1,0],[1,0]]}}
 }},
{"transform": [{"filter": {"field": "s", "oneOf": ["A2","A3","A4","A7","A8","A9"]}}],
 "mark": {"type": "line", "strokeWidth": 2.5, "strokeDash": [0.1, 4.6], "strokeCap": "round", "interpolate": "monotone", "clip": true},
 "encoding": {
  "x": {"field": "q", "type": "quantitative"},
  "y": {"field": "v", "type": "quantitative"},
  "color": {"field": "s", "type": "nominal", "legend": null, "scale": {"domain": ["A2","A3","A4","A7","A8","A9"], "range": ["#7a4a3c","#4e1b2a","#a8283a","#2f93c0","#3f8d38","#f7bd62"]}}
 }},
{"transform": [{"filter": {"field": "s", "equal": "A1"}}],
 "mark": {"type": "point", "filled": true, "size": 9, "opacity": 1, "clip": true, "color": "#6e3a36"},
 "encoding": {
  "x": {"field": "q", "type": "quantitative"},
  "y": {"field": "v", "type": "quantitative"}
 }}
]
},
{
"width": 384, "height": 448,
"title": {"text": "B", "anchor": "start", "frame": "group", "dx": -64, "dy": 20, "offset": 3, "baseline": "top", "fontSize": 18, "fontWeight": "bold", "font": "Liberation Sans", "color": "#000000"},
"data": {"name": "B"},
"resolve": {"scale": {"color": "independent"}},
"layer": [
{"transform": [{"filter": {"field": "s", "oneOf": ["B1","B2","B3","B4","B5","B6","B7","B8"]}}],
 "mark": {"type": "line", "strokeWidth": 1.3, "interpolate": "monotone", "clip": true},
 "encoding": {
  "x": {"field": "q", "type": "quantitative", "scale": {"domain": [0, 80], "nice": false}, "axis": {"title": "q", "values": [0,10,20,30,40,50,60,70,80], "format": "d"}},
  "y": {"field": "v", "type": "quantitative", "scale": {"domain": [-0.16, 0.02], "nice": false, "zero": false}, "axis": {"title": "τ''(q)", "titleFontWeight": "bold", "values": [0.02,0,-0.02,-0.04,-0.06,-0.08,-0.1,-0.12,-0.14,-0.16], "format": ".2~f"}},
  "color": {"field": "s", "type": "nominal", "legend": null, "scale": {"domain": ["B1","B2","B3","B4","B5","B6","B7","B8"], "range": ["#b8325c","#ee7b3d","#6cbf5a","#7d3c98","#3f8fd0","#2d60b0","#e3582e","#88c5ea"]}},
  "strokeDash": {"field": "s", "type": "nominal", "legend": null, "scale": {"domain": ["B1","B2","B3","B4","B5","B6","B7","B8"], "range": [[1,0],[1,0],[1,0],[1,0],[1,0],[6,3],[6,3],[7,4]]}}
 }},
{"transform": [{"filter": {"field": "s", "oneOf": ["B9","B10"]}}],
 "mark": {"type": "line", "strokeWidth": 2.8, "strokeDash": [0.1, 4], "strokeCap": "round", "interpolate": "monotone", "clip": true},
 "encoding": {
  "x": {"field": "q", "type": "quantitative"},
  "y": {"field": "v", "type": "quantitative"},
  "color": {"field": "s", "type": "nominal", "legend": null, "scale": {"domain": ["B9","B10"], "range": ["#f5d680","#f1b53a"]}}
 }},
{"transform": [{"filter": {"field": "s", "oneOf": ["B1","B2","B3","B4","B5"]}}],
 "mark": {"type": "point", "filled": true, "size": 10, "opacity": 1, "clip": true},
 "encoding": {
  "x": {"field": "q", "type": "quantitative"},
  "y": {"field": "v", "type": "quantitative"},
  "color": {"field": "s", "type": "nominal", "legend": null, "scale": {"domain": ["B1","B2","B3","B4","B5"], "range": ["#6e1e38","#b5562b","#3e8a35","#4a2262","#24608f"]}}
 }}
]
}
],
"config": {
 "view": {"stroke": null},
 "font": "Liberation Sans",
 "locale": {"number": {"decimal": ".", "thousands": ",", "grouping": [3], "currency": ["$", ""], "minus": "-"}},
 "axis": {"grid": false, "domainColor": "#8c8c8c", "domainWidth": 1.2, "tickColor": "#8c8c8c", "tickSize": -5, "labelPadding": 12, "labelFont": "Liberation Sans", "labelFontSize": 16, "labelColor": "#262626", "titleFont": "Liberation Sans", "titleFontSize": 17, "titleColor": "#222222", "titleFontWeight": "normal"},
 "axisX": {"titlePadding": 12},
 "axisY": {"titlePadding": 3}
}
}
